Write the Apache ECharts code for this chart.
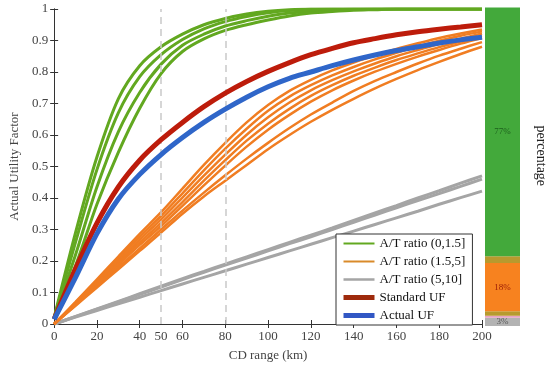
<!DOCTYPE html>
<html><head><meta charset="utf-8">
<script src="https://cdn.jsdelivr.net/npm/echarts@6/dist/echarts.min.js"></script>
<style>html,body{margin:0;padding:0;background:#fff}#c{width:550px;height:367px}</style>
</head><body><div id="c"></div>
<script>
// ---- data ----
const xs = [0,10,20,30,40,50,60,70,80,90,100,110,120,130,140,150,160,170,180,190,200];
const green1 = [0.02,0.29,0.53,0.715,0.82,0.88,0.92,0.95,0.97,0.984,0.993,0.998,1,1,1,1,1,1,1,1,1];
const green2 = [0.02,0.26,0.49,0.67,0.785,0.855,0.903,0.937,0.96,0.976,0.988,0.995,0.999,1,1,1,1,1,1,1,1];
const green3 = [0.02,0.22,0.435,0.61,0.735,0.825,0.885,0.92,0.946,0.963,0.977,0.987,0.994,0.997,0.999,1,1,1,1,1,1];
const green4 = [0.02,0.185,0.38,0.545,0.685,0.795,0.865,0.905,0.932,0.95,0.965,0.978,0.987,0.992,0.996,0.998,1,1,1,1,1];
const orange1 = [0,0.07,0.142,0.214,0.286,0.355,0.43,0.505,0.575,0.64,0.695,0.74,0.775,0.805,0.83,0.853,0.873,0.891,0.908,0.922,0.935];
const orange2 = [0,0.068,0.137,0.207,0.277,0.343,0.415,0.488,0.557,0.62,0.677,0.722,0.758,0.789,0.816,0.84,0.861,0.881,0.899,0.915,0.929];
const orange3 = [0,0.066,0.133,0.2,0.268,0.332,0.401,0.471,0.538,0.601,0.656,0.703,0.742,0.774,0.802,0.827,0.85,0.87,0.889,0.906,0.922];
const orange4 = [0,0.064,0.129,0.194,0.259,0.321,0.387,0.455,0.52,0.582,0.636,0.683,0.724,0.758,0.788,0.814,0.838,0.859,0.879,0.897,0.914];
const orange5 = [0,0.062,0.125,0.188,0.251,0.311,0.375,0.44,0.503,0.563,0.617,0.664,0.706,0.742,0.773,0.801,0.826,0.849,0.87,0.89,0.908];
const orange6 = [0,0.06,0.12,0.18,0.24,0.3,0.36,0.417,0.472,0.525,0.575,0.622,0.665,0.703,0.74,0.772,0.8,0.827,0.852,0.874,0.895];
const orange7 = [0,0.058,0.116,0.174,0.232,0.29,0.35,0.405,0.455,0.505,0.555,0.6,0.642,0.68,0.715,0.748,0.778,0.806,0.832,0.857,0.88];
const gray1 = [0,0.024,0.048,0.072,0.096,0.12,0.144,0.167,0.19,0.213,0.236,0.259,0.282,0.305,0.329,0.353,0.376,0.4,0.423,0.447,0.47];
const gray2 = [0,0.0236,0.047,0.07,0.094,0.117,0.141,0.164,0.187,0.209,0.232,0.255,0.277,0.3,0.323,0.346,0.369,0.392,0.414,0.437,0.46];
const gray3 = [0,0.022,0.043,0.064,0.085,0.106,0.127,0.148,0.169,0.19,0.211,0.232,0.253,0.274,0.295,0.316,0.337,0.358,0.38,0.401,0.422];
const standardUF = [0.015,0.175,0.32,0.435,0.52,0.585,0.64,0.69,0.733,0.77,0.802,0.83,0.855,0.875,0.893,0.906,0.918,0.928,0.936,0.943,0.95];
const actualUF = [0.015,0.148,0.287,0.397,0.475,0.538,0.592,0.64,0.682,0.72,0.753,0.78,0.80,0.82,0.838,0.854,0.868,0.88,0.892,0.902,0.91];
const refLines = [50, 80];
const xTickValues = [0,20,40,60,80,100,120,140,160,180,200];
const xLabelValues = [0,20,40,50,60,80,100,120,140,160,180,200];
const groupNames = ['A/T ratio (0,1.5]','A/T ratio (1.5,5]','A/T ratio (5,10]','Standard UF','Actual UF'];
// stacked share bar, bottom to top
const shareValues = [2.6, 0.6, 1.4, 15.2, 2.1, 78.1];
const shareLabels = ['3%', '', '', '18%', '', '77%'];

// ---- styles ----
const FONT = 'Liberation Serif';
const C_GREEN = '#62a820', C_ORANGE = '#f07d22', C_GRAY = '#a5a5a5', C_RED = '#bd1c0b', C_BLUE = '#2f66c9';
const legendColors = ['#62a820', '#d98a2a', '#a5a5a5', '#9e2a0c', '#3157c4'];
const legendWidths = [2, 2, 2.5, 5, 5];
const shareColors = ['#b3b3b3', '#e7a3c3', '#b79a2e', '#f7821f', '#b79a2e', '#43a93b'];
const shareLabelColors = ['#555', '#000', '#000', '#9a1b06', '#000', '#1c5e1c'];

function pts(arr){ return xs.map((x,i)=>[x, arr[i]]); }
function lineSeries(name, arr, color, width, z){
  return {type:'line', name, data: pts(arr), xAxisIndex:0, yAxisIndex:0, symbol:'none', showSymbol:false,
    smooth:0.3, lineStyle:{color, width}, itemStyle:{color}, z, silent:true, animation:false};
}
const series = [];
[gray1,gray2,gray3].forEach(a=>series.push(lineSeries(groupNames[2], a, C_GRAY, 3, 2)));
[orange1,orange2,orange3,orange4,orange5,orange6,orange7].forEach(a=>series.push(lineSeries(groupNames[1], a, C_ORANGE, 2.5, 3)));
[green1,green2,green3,green4].forEach(a=>series.push(lineSeries(groupNames[0], a, C_GREEN, 3, 4)));
series.push(lineSeries(groupNames[3], standardUF, C_RED, 5, 5));
series.push(lineSeries(groupNames[4], actualUF, C_BLUE, 5, 6));
series.push({type:'line', data:[], xAxisIndex:0, yAxisIndex:0, silent:true, z:7,
  markLine:{symbol:'none', silent:true, animation:false, label:{show:false},
    lineStyle:{type:[7,5], color:'#c9c9c9', width:1.5},
    data: refLines.map(v=>({xAxis:v}))}});
shareValues.forEach((v,i)=>{
  series.push({type:'bar', stack:'share', xAxisIndex:2, yAxisIndex:2, barWidth:'100%', data:[v],
    itemStyle:{color:shareColors[i]}, animation:false, silent:true,
    label:{show: !!shareLabels[i], position:'inside', formatter: shareLabels[i], fontFamily:FONT, fontSize:9, color:shareLabelColors[i]}});
});

const axisLine = {show:true, lineStyle:{color:'#333', width:1}};
const option = {
  backgroundColor:'#fff',
  animation:false,
  textStyle:{fontFamily:FONT},
  grid:[
    {left:44, right:68, top:9, bottom:42},
    {left:485, right:30, top:7.5, bottom:41}
  ],
  legend:{
    data: groupNames.map((n,i)=>({name:n, lineStyle:{color:legendColors[i], width:legendWidths[i]}})),
    orient:'vertical', left:336, top:234,
    itemWidth:31, itemHeight:12, itemGap:5, itemStyle:{opacity:0},
    padding:[3,7,3,5], borderColor:'#333', borderWidth:1, backgroundColor:'#fff',
    textStyle:{fontFamily:FONT, fontSize:13, color:'#111'}, z:20
  },
  xAxis:[
    {type:'value', gridIndex:0, min:0, max:200, position:'bottom',
     name:'CD range (km)', nameLocation:'middle', nameGap:25, nameTextStyle:{fontFamily:FONT, fontSize:13, color:'#444'},
     axisLine, axisTick:{inside:true, length:4, customValues:xTickValues, lineStyle:{color:'#333'}},
     axisLabel:{customValues:xLabelValues, fontFamily:FONT, fontSize:13, color:'#444', margin:6},
     splitLine:{show:false}},
    {type:'value', gridIndex:0, min:0, max:200, position:'top',
     axisLine, axisTick:{inside:true, length:4, customValues:xTickValues, lineStyle:{color:'#333'}},
     axisLabel:{show:false}, splitLine:{show:false}},
    {type:'category', gridIndex:1, data:['share'], show:false}
  ],
  yAxis:[
    {type:'value', gridIndex:0, min:0, max:1, interval:0.1, position:'left',
     name:'Actual Utility Factor', nameLocation:'middle', nameGap:28, nameTextStyle:{fontFamily:FONT, fontSize:13, color:'#444'},
     axisLine, axisTick:{inside:true, length:4, lineStyle:{color:'#333'}},
     axisLabel:{fontFamily:FONT, fontSize:13, color:'#444', margin:6}, splitLine:{show:false}},
    {type:'value', gridIndex:0, min:0, max:1, interval:0.1, position:'right',
     axisLine, axisTick:{inside:true, length:4, lineStyle:{color:'#333'}},
     axisLabel:{show:false}, splitLine:{show:false}},
    {type:'value', gridIndex:1, min:0, max:100, position:'right',
     name:'percentage', nameLocation:'middle', nameGap:14, nameRotate:-90,
     nameTextStyle:{fontFamily:FONT, fontSize:14, color:'#222', padding:[0,22,0,0]},
     axisLine:{show:false}, axisTick:{show:false}, axisLabel:{show:false}, splitLine:{show:false}}
  ],
  series
};
const chart = echarts.init(document.getElementById('c'), null, {renderer:'canvas'});
chart.setOption(option);
</script>
</body></html>
